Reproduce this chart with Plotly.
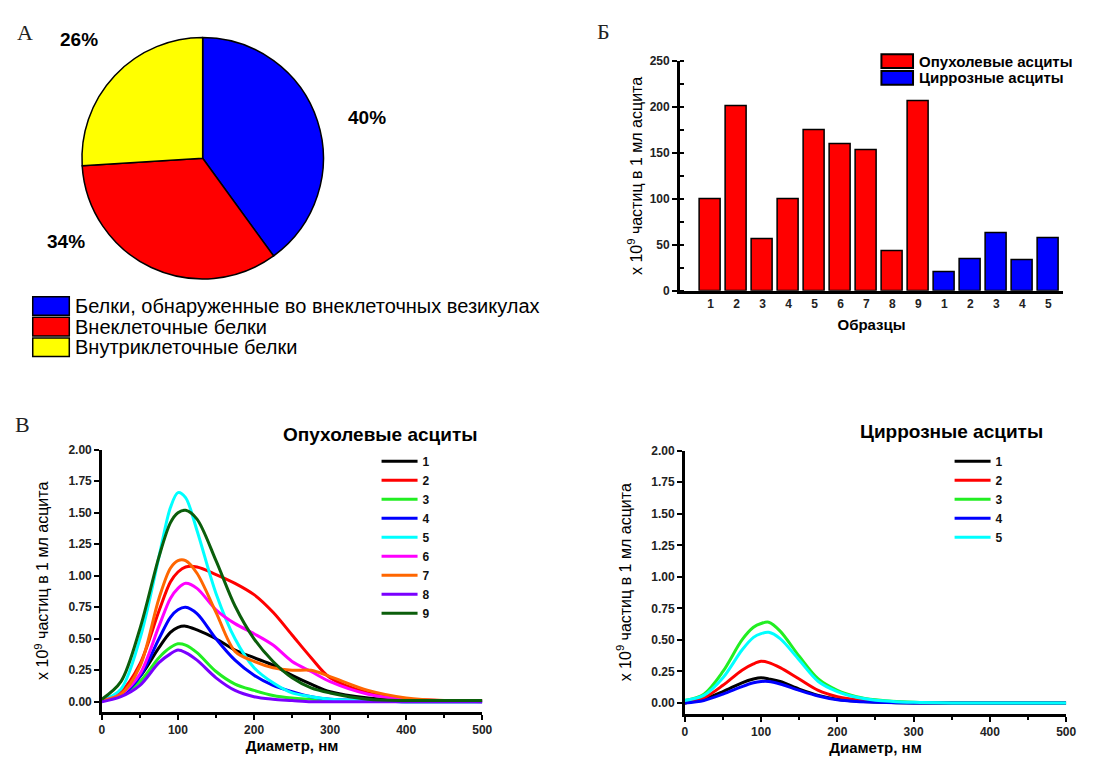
import plotly.graph_objects as go

# The page adds an 8 px body margin round the figure, so the figure is made 16 px smaller
PAGE_W, PAGE_H, PAGE_MARGIN = 1098, 771, 8
W, H = PAGE_W - 2 * PAGE_MARGIN, PAGE_H - 2 * PAGE_MARGIN

# ---------------- data ----------------
pie_labels = ["Белки, обнаруженные во внеклеточных везикулах", "Внеклеточные белки", "Внутриклеточные белки"]
pie_values = [40, 34, 26]
pie_colors = ["#0000ff", "#ff0000", "#ffff00"]

bar_tumor_labels = ["1", "2", "3", "4", "5", "6", "7", "8", "9"]
bar_tumor_values = [100, 201, 56, 100, 175, 160, 153, 43, 206]
bar_cirr_labels = ["1", "2", "3", "4", "5"]
bar_cirr_values = [20, 35, 63, 33, 57]
bar_series_names = ["Опухолевые асциты", "Циррозные асциты"]
bar_colors = ["#ff0000", "#0000ff"]

x_tumor = [0, 25, 50, 75, 90, 100, 110, 125, 150, 175, 200, 225, 250, 275, 300, 350, 400, 450, 500]
tumor_curves = {
    "1": [0.01, 0.06, 0.20, 0.43, 0.55, 0.59, 0.60, 0.57, 0.50, 0.41, 0.35, 0.29, 0.21, 0.14, 0.08, 0.03, 0.01, 0.01, 0.01],
    "2": [0.01, 0.08, 0.30, 0.72, 0.95, 1.03, 1.07, 1.07, 1.01, 0.94, 0.85, 0.71, 0.53, 0.35, 0.19, 0.07, 0.02, 0.01, 0.01],
    "3": [0.01, 0.05, 0.16, 0.35, 0.43, 0.46, 0.45, 0.39, 0.24, 0.14, 0.09, 0.05, 0.03, 0.02, 0.01, 0.01, 0.00, 0.00, 0.00],
    "4": [0.01, 0.05, 0.20, 0.50, 0.67, 0.73, 0.75, 0.70, 0.50, 0.33, 0.21, 0.13, 0.08, 0.04, 0.02, 0.01, 0.00, 0.00, 0.00],
    "5": [0.01, 0.10, 0.50, 1.15, 1.54, 1.66, 1.62, 1.36, 0.86, 0.50, 0.27, 0.15, 0.07, 0.04, 0.02, 0.01, 0.00, 0.00, 0.00],
    "6": [0.01, 0.06, 0.22, 0.60, 0.82, 0.90, 0.94, 0.90, 0.73, 0.62, 0.54, 0.45, 0.32, 0.24, 0.16, 0.06, 0.02, 0.01, 0.00],
    "7": [0.01, 0.06, 0.28, 0.82, 1.06, 1.12, 1.12, 1.02, 0.71, 0.40, 0.32, 0.27, 0.25, 0.25, 0.20, 0.09, 0.03, 0.01, 0.01],
    "8": [0.00, 0.04, 0.13, 0.31, 0.38, 0.41, 0.39, 0.33, 0.19, 0.09, 0.04, 0.02, 0.01, 0.00, 0.00, 0.00, 0.00, 0.00, 0.00],
    "9": [0.02, 0.16, 0.58, 1.15, 1.42, 1.50, 1.52, 1.45, 1.12, 0.76, 0.50, 0.32, 0.19, 0.11, 0.07, 0.02, 0.01, 0.01, 0.01],
}
tumor_colors = ["#000000", "#ff0000", "#22ee22", "#0000ff", "#00ffff", "#ff00ff", "#ff6600", "#7a00ff", "#0b5e0b"]

x_cirr = [0, 25, 50, 75, 90, 100, 110, 125, 150, 175, 200, 225, 250, 300, 350, 400, 450, 500]
cirr_curves = {
    "1": [0.00, 0.03, 0.09, 0.16, 0.19, 0.20, 0.19, 0.17, 0.11, 0.06, 0.03, 0.015, 0.008, 0.00, 0.00, 0.00, 0.00, 0.00],
    "2": [0.00, 0.04, 0.14, 0.26, 0.31, 0.33, 0.32, 0.28, 0.19, 0.10, 0.05, 0.025, 0.012, 0.003, 0.00, 0.00, 0.00, 0.00],
    "3": [0.02, 0.07, 0.25, 0.50, 0.60, 0.63, 0.64, 0.57, 0.37, 0.19, 0.10, 0.05, 0.025, 0.005, 0.00, 0.00, 0.00, 0.00],
    "4": [0.00, 0.02, 0.07, 0.13, 0.16, 0.17, 0.17, 0.15, 0.10, 0.055, 0.025, 0.012, 0.006, 0.00, 0.00, 0.00, 0.00, 0.00],
    "5": [0.02, 0.06, 0.20, 0.42, 0.52, 0.55, 0.56, 0.51, 0.34, 0.17, 0.09, 0.045, 0.022, 0.005, 0.00, 0.00, 0.00, 0.00],
}
cirr_colors = ["#000000", "#ff0000", "#22ee22", "#0000ff", "#00ffff"]

line_y_ticks = [0, 0.25, 0.5, 0.75, 1.0, 1.25, 1.5, 1.75, 2.0]
bar_y_ticks = [0, 50, 100, 150, 200, 250]

y_title = "x 10<sup>9</sup> частиц в 1 мл асцита"
x_title_bar = "Образцы"
x_title_line = "Диаметр, нм"
title_tumor = "Опухолевые асциты"
title_cirr = "Циррозные асциты"


def px(x):
    """page pixel x -> paper fraction"""
    return (x - PAGE_MARGIN) / W


def py(y):
    """page pixel y (from top) -> paper fraction"""
    return 1 - (y - PAGE_MARGIN) / H


SANS = "Liberation Sans, Arial, sans-serif"
SERIF = "Liberation Serif, Times New Roman, serif"
TICKC = "#222222"

fig = go.Figure()

# ---------------- pie ----------------
fig.add_trace(go.Pie(
    labels=pie_labels, values=pie_values, sort=False, direction="clockwise", rotation=0,
    marker=dict(colors=pie_colors, line=dict(color="black", width=1.5)),
    textinfo="none", showlegend=False,
    domain=dict(x=[px(202 - 123), px(202 + 123)], y=[py(154 + 123), py(154 - 123)]),
))

# ---------------- bars ----------------
bar_labels = bar_tumor_labels + bar_cirr_labels
n_t = len(bar_tumor_values)
fig.add_trace(go.Bar(
    x=list(range(n_t)), y=bar_tumor_values, name=bar_series_names[0],
    marker=dict(color=bar_colors[0], line=dict(color="black", width=1.5)),
    width=0.83, xaxis="x", yaxis="y", showlegend=False,
))
fig.add_trace(go.Bar(
    x=list(range(n_t, n_t + len(bar_cirr_values))), y=bar_cirr_values, name=bar_series_names[1],
    marker=dict(color=bar_colors[1], line=dict(color="black", width=1.5)),
    width=0.83, xaxis="x", yaxis="y", showlegend=False,
))

# ---------------- lines ----------------
for (name, ys), c in zip(tumor_curves.items(), tumor_colors):
    fig.add_trace(go.Scatter(
        x=x_tumor, y=ys, mode="lines", name=name, line=dict(color=c, width=3, shape="spline", smoothing=0.9),
        xaxis="x2", yaxis="y2", legend="legend",
    ))
for (name, ys), c in zip(cirr_curves.items(), cirr_colors):
    fig.add_trace(go.Scatter(
        x=x_cirr, y=ys, mode="lines", name=name, line=dict(color=c, width=3, shape="spline", smoothing=0.9),
        xaxis="x3", yaxis="y3", legend="legend2",
    ))

tickfont = dict(family=SANS, size=12, color=TICKC, weight="bold")
axis_common = dict(showline=True, linecolor="black", linewidth=2.5, showgrid=False, zeroline=False,
                   ticks="outside", ticklen=5, tickwidth=2, tickcolor="black", tickfont=tickfont)
ytitle_font = dict(family=SANS, size=16, color="black")
xtitle_font = dict(family=SANS, size=15, color="black", weight="bold")
legend_font = dict(family=SANS, size=12, color="#111", weight="bold")

fig.update_layout(
    width=W, height=H, margin=dict(l=0, r=0, t=0, b=0),
    paper_bgcolor="white", plot_bgcolor="white",
    bargap=0,
    xaxis=dict(domain=[px(685), px(1073)], range=[-1.18, 13.57], anchor="y",
               tickmode="array", tickvals=list(range(len(bar_labels))), ticktext=bar_labels,
               showline=True, linecolor="black", linewidth=2.5, showgrid=False, zeroline=False,
               ticks="", tickfont=tickfont,
               title=dict(text=x_title_bar, font=xtitle_font, standoff=10)),
    yaxis=dict(domain=[py(289), py(55)], range=[0, 250], anchor="x",
               tickvals=bar_y_ticks, minor=dict(dtick=25, ticks="inside", ticklen=4, tickwidth=2, tickcolor="black"),
               title=dict(text=y_title, font=ytitle_font, standoff=4),
               **axis_common),
    xaxis2=dict(domain=[px(100), px(485)], range=[0, 500], anchor="y2", dtick=100,
                minor=dict(dtick=50, ticks="outside", ticklen=3, tickwidth=1.5, tickcolor="black"),
                title=dict(text=x_title_line, font=xtitle_font, standoff=4),
                **axis_common),
    yaxis2=dict(domain=[py(718), py(451)], range=[-0.08, 2.0], anchor="x2",
                tickvals=line_y_ticks, tickformat=".2f",
                title=dict(text=y_title, font=ytitle_font, standoff=16),
                **axis_common),
    xaxis3=dict(domain=[px(690), px(1076)], range=[0, 500], anchor="y3", dtick=100,
                minor=dict(dtick=50, ticks="outside", ticklen=3, tickwidth=1.5, tickcolor="black"),
                title=dict(text=x_title_line, font=xtitle_font, standoff=3),
                **axis_common),
    yaxis3=dict(domain=[py(720), py(452)], range=[-0.086, 2.0], anchor="x3",
                tickvals=line_y_ticks, tickformat=".2f",
                title=dict(text=y_title, font=ytitle_font, standoff=16),
                **axis_common),
    legend=dict(x=px(378), y=py(448), xanchor="left", yanchor="top", bgcolor="rgba(0,0,0,0)",
                font=legend_font, tracegroupgap=0, itemwidth=36,
                itemclick=False, itemdoubleclick=False),
    legend2=dict(x=px(958), y=py(448), xanchor="left", yanchor="top", bgcolor="rgba(0,0,0,0)",
                 font=legend_font, tracegroupgap=0, itemwidth=36,
                 itemclick=False, itemdoubleclick=False),
)

shapes = []
annotations = []


def note(x, y, text, font, xanchor="center", yanchor="middle"):
    annotations.append(dict(x=px(x), y=py(y), xref="paper", yref="paper", text=text, showarrow=False,
                            xanchor=xanchor, yanchor=yanchor, font=font))


# pie percentage labels
pie_label_pos = [(368, 112), (64, 239), (77, 33)]
for v, (x, y) in zip(pie_values, pie_label_pos):
    note(x, y, f"{v}%", dict(family=SANS, size=19, color="black", weight="bold"))

# pie legend (large boxes)
for i, (lab, col) in enumerate(zip(pie_labels, pie_colors)):
    y0 = 295 + i * 21
    shapes.append(dict(type="rect", xref="paper", yref="paper", x0=px(30), x1=px(67), y0=py(y0), y1=py(y0 + 19),
                       fillcolor=col, line=dict(color="black", width=1.5)))
    note(71, y0 + 9.5, lab, dict(family=SANS, size=20, color="black"), xanchor="left")

# bar legend
for i, (lab, col) in enumerate(zip(bar_series_names, bar_colors)):
    y0 = 48 + i * 17
    shapes.append(dict(type="rect", xref="paper", yref="paper", x0=px(889), x1=px(921), y0=py(y0), y1=py(y0 + 14),
                       fillcolor=col, line=dict(color="black", width=2)))
    note(925, y0 + 7, lab, dict(family=SANS, size=15, color="black", weight="bold"), xanchor="left")

# line chart titles
note(381, 435, title_tumor, dict(family=SANS, size=19, color="black", weight="bold"))
note(960, 432, title_cirr, dict(family=SANS, size=19, color="black", weight="bold"))

# panel letters
for letter, (x, y) in zip(["А", "Б", "В"], [(22, 26), (608, 25), (20, 425)]):
    note(x, y, letter, dict(family=SERIF, size=22, color="#222"))

fig.update_layout(shapes=shapes, annotations=annotations)

fig.write_html("out.html", config={"displayModeBar": False})
